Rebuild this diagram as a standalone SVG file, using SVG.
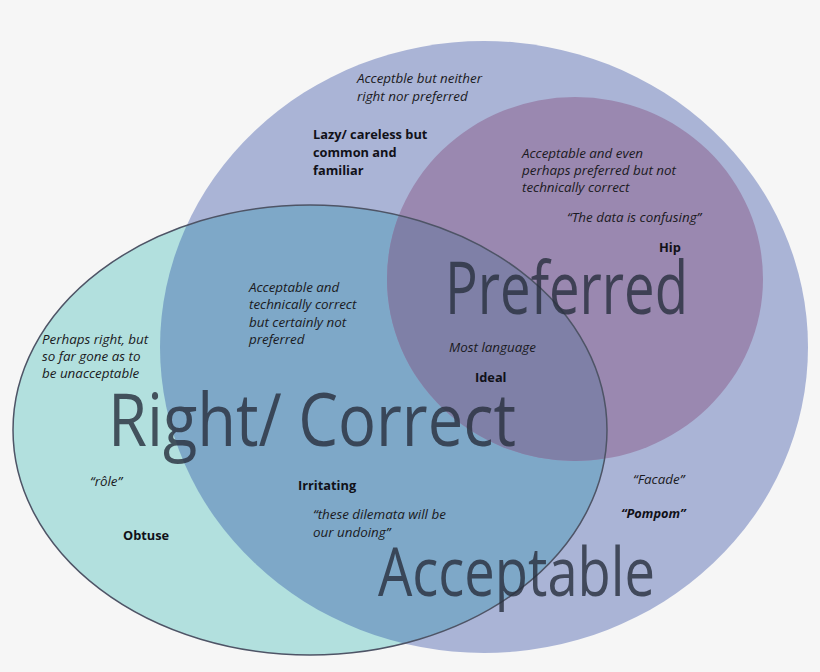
<svg xmlns="http://www.w3.org/2000/svg" width="820" height="672" viewBox="0 0 820 672">
<style>
.big{font-family:"Open Sans","Liberation Sans",sans-serif;fill:#2a3140;fill-opacity:0.82}
.it{font-family:"Open Sans","Liberation Sans",sans-serif;font-style:italic;font-size:13.4px;fill:#1a1a22}
.bd{font-family:"Open Sans","Liberation Sans",sans-serif;font-weight:bold;font-size:12.8px;fill:#111118}
.bi{font-family:"Open Sans","Liberation Sans",sans-serif;font-weight:bold;font-style:italic;font-size:12.8px;fill:#111118}
</style>
<defs>
<clipPath id="cRight"><ellipse cx="310" cy="430" rx="297" ry="225"/></clipPath>
</defs>
<rect width="820" height="672" fill="#f6f6f6"/>
<g id="acceptable">
<ellipse cx="484" cy="347" rx="324" ry="306" fill="#aab4d6"/>
</g>
<g id="right-correct">
<ellipse cx="310" cy="430" rx="297" ry="225" fill="#b2e0de"/>
<ellipse cx="484" cy="347" rx="324" ry="306" fill="#7ea8c8" clip-path="url(#cRight)"/>
</g>
<g id="preferred">
<ellipse cx="575" cy="279" rx="188" ry="182" fill="#9a88b0"/>
<ellipse cx="575" cy="279" rx="188" ry="182" fill="#7f80a7" clip-path="url(#cRight)"/>
</g>
<g id="outline">
<ellipse cx="310" cy="430" rx="297" ry="225" fill="none" stroke="#4e5466" stroke-width="1.5"/>
</g>
<g id="labels-big">
<text class="big" x="445" y="314" font-size="74" textLength="243" lengthAdjust="spacingAndGlyphs">Preferred</text>
<text class="big" x="108" y="446" font-size="74" textLength="408" lengthAdjust="spacingAndGlyphs">Right/ Correct</text>
<text class="big" x="378" y="596" font-size="68" textLength="277" lengthAdjust="spacingAndGlyphs">Acceptable</text>
</g>
<g id="text-acceptable-only">
<text class="it" x="357" y="83">Acceptble but neither</text>
<text class="it" x="357" y="101">right nor preferred</text>
<text class="bd" x="313" y="139">Lazy/ careless but</text>
<text class="bd" x="313" y="157">common and</text>
<text class="bd" x="313" y="175">familiar</text>
<text class="it" x="633" y="484">“Facade”</text>
<text class="bi" x="621" y="518">“Pompom”</text>
</g>
<g id="text-preferred-only">
<text class="it" x="522" y="158">Acceptable and even</text>
<text class="it" x="522" y="175">perhaps preferred but not</text>
<text class="it" x="522" y="192">technically correct</text>
<text class="it" x="567" y="222">“The data is confusing”</text>
<text class="bd" x="659" y="252">Hip</text>
</g>
<g id="text-right-acceptable">
<text class="it" x="249" y="292">Acceptable and</text>
<text class="it" x="249" y="309">technically correct</text>
<text class="it" x="249" y="327">but certainly not</text>
<text class="it" x="249" y="344">preferred</text>
<text class="bd" x="298" y="490">Irritating</text>
<text class="it" x="313" y="519">“these dilemata will be</text>
<text class="it" x="313" y="537">our undoing”</text>
</g>
<g id="text-right-only">
<text class="it" x="42" y="344">Perhaps right, but</text>
<text class="it" x="42" y="361">so far gone as to</text>
<text class="it" x="42" y="378">be unacceptable</text>
<text class="it" x="90" y="486">“rôle”</text>
<text class="bd" x="123" y="540">Obtuse</text>
</g>
<g id="text-ideal">
<text class="it" x="449" y="352">Most language</text>
<text class="bd" x="475" y="382">Ideal</text>
</g>
</svg>
